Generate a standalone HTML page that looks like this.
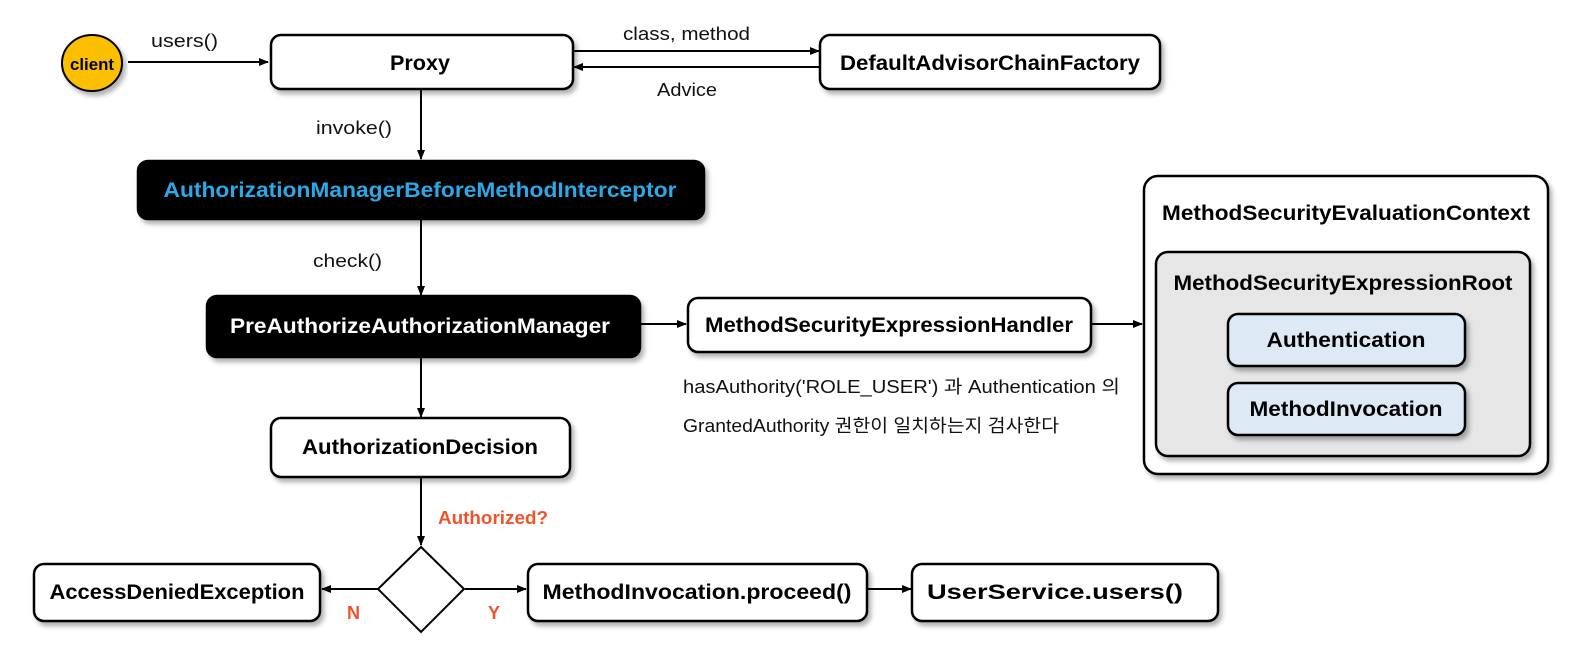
<!DOCTYPE html>
<html><head><meta charset="utf-8"><style>
html,body{margin:0;padding:0;background:#fff;}
svg{display:block;}
text{font-family:"Liberation Sans","Noto Sans CJK KR",sans-serif;}
.b{font-weight:bold;font-size:21px;fill:#000;}
.n{font-size:18px;fill:#111;}
</style></head><body>
<svg width="1583" height="659" viewBox="0 0 1583 659" xmlns="http://www.w3.org/2000/svg">
<defs>
<filter id="sh" x="-10%" y="-20%" width="120%" height="150%"><feDropShadow dx="3" dy="4" stdDeviation="2.5" flood-color="#000" flood-opacity="0.3"/></filter>
<marker id="ar" markerWidth="10" markerHeight="10" refX="9" refY="5" orient="auto" markerUnits="userSpaceOnUse"><path d="M0,1 L10,5 L0,9 Z" fill="#000"/></marker>
</defs>
<g stroke="#000" stroke-width="2" fill="none">
<line x1="128" y1="62" x2="268" y2="62" marker-end="url(#ar)"/>
<line x1="574" y1="51" x2="819" y2="51" marker-end="url(#ar)"/>
<line x1="819" y1="67" x2="574" y2="67" marker-end="url(#ar)"/>
<line x1="421" y1="89" x2="421" y2="159" marker-end="url(#ar)"/>
<line x1="421" y1="220" x2="421" y2="295" marker-end="url(#ar)"/>
<line x1="641" y1="324" x2="686" y2="324" marker-end="url(#ar)"/>
<line x1="1092" y1="324" x2="1142" y2="324" marker-end="url(#ar)"/>
<line x1="421" y1="357" x2="421" y2="417" marker-end="url(#ar)"/>
<line x1="421" y1="478" x2="421" y2="545" marker-end="url(#ar)"/>
<line x1="378" y1="589" x2="322" y2="589" marker-end="url(#ar)"/>
<line x1="465" y1="589" x2="526" y2="589" marker-end="url(#ar)"/>
<line x1="868" y1="589" x2="911" y2="589" marker-end="url(#ar)"/>
</g>
<ellipse cx="92" cy="63" rx="30" ry="28" fill="#fbbf00" stroke="#000" stroke-width="2" filter="url(#sh)"/>
<text x="92" y="70" text-anchor="middle" font-weight="bold" font-size="17" textLength="44" lengthAdjust="spacingAndGlyphs">client</text>
<g stroke="#000" stroke-width="2.5">
<rect x="271" y="35" width="302" height="54" rx="10" fill="#fff" filter="url(#sh)"/>
<rect x="820" y="35" width="340" height="54" rx="10" fill="#fff" filter="url(#sh)"/>
<rect x="138" y="161" width="566" height="58" rx="10" fill="#000" filter="url(#sh)"/>
<rect x="207" y="296" width="433" height="61" rx="10" fill="#000" filter="url(#sh)"/>
<rect x="688" y="298" width="403" height="54" rx="10" fill="#fff" filter="url(#sh)"/>
<rect x="1144" y="176" width="404" height="298" rx="14" fill="#fff" filter="url(#sh)"/>
<rect x="1156" y="252" width="374" height="204" rx="12" fill="#e6e6e6" filter="url(#sh)"/>
<rect x="1228" y="314" width="237" height="52" rx="10" fill="#dde9f5" filter="url(#sh)"/>
<rect x="1228" y="383" width="237" height="52" rx="10" fill="#dde9f5" filter="url(#sh)"/>
<rect x="271" y="418" width="299" height="59" rx="10" fill="#fff" filter="url(#sh)"/>
<rect x="34" y="564" width="286" height="57" rx="10" fill="#fff" filter="url(#sh)"/>
<rect x="528" y="564" width="339" height="57" rx="10" fill="#fff" filter="url(#sh)"/>
<rect x="912" y="564" width="306" height="57" rx="10" fill="#fff" filter="url(#sh)"/>
</g>
<path d="M421,547 L464,589 L421,632 L378,589 Z" fill="#fff" stroke="#000" stroke-width="2"/>
<text class="b" x="420" y="70" text-anchor="middle" textLength="60" lengthAdjust="spacingAndGlyphs">Proxy</text>
<text class="b" x="990" y="70" text-anchor="middle" textLength="300" lengthAdjust="spacingAndGlyphs">DefaultAdvisorChainFactory</text>
<text class="b" x="420" y="197" text-anchor="middle" style="fill:#29a9e8" textLength="513" lengthAdjust="spacingAndGlyphs">AuthorizationManagerBeforeMethodInterceptor</text>
<text class="b" x="420" y="333" text-anchor="middle" style="fill:#fff" textLength="380" lengthAdjust="spacingAndGlyphs">PreAuthorizeAuthorizationManager</text>
<text class="b" x="889" y="332" text-anchor="middle" textLength="368" lengthAdjust="spacingAndGlyphs">MethodSecurityExpressionHandler</text>
<text class="b" x="1346" y="220" text-anchor="middle" textLength="368" lengthAdjust="spacingAndGlyphs">MethodSecurityEvaluationContext</text>
<text class="b" x="1343" y="290" text-anchor="middle" textLength="339" lengthAdjust="spacingAndGlyphs">MethodSecurityExpressionRoot</text>
<text class="b" x="1346" y="347" text-anchor="middle" textLength="159" lengthAdjust="spacingAndGlyphs">Authentication</text>
<text class="b" x="1346" y="416" text-anchor="middle" textLength="193" lengthAdjust="spacingAndGlyphs">MethodInvocation</text>
<text class="b" x="420" y="454" text-anchor="middle" textLength="236" lengthAdjust="spacingAndGlyphs">AuthorizationDecision</text>
<text class="b" x="177" y="599" text-anchor="middle" textLength="255" lengthAdjust="spacingAndGlyphs">AccessDeniedException</text>
<text class="b" x="697" y="599" text-anchor="middle" textLength="309" lengthAdjust="spacingAndGlyphs">MethodInvocation.proceed()</text>
<text class="b" x="1055" y="599" text-anchor="middle" textLength="256" lengthAdjust="spacingAndGlyphs">UserService.users()</text>
<text class="n" x="151" y="47" textLength="67" lengthAdjust="spacingAndGlyphs">users()</text>
<text class="n" x="623" y="40" textLength="127" lengthAdjust="spacingAndGlyphs">class, method</text>
<text class="n" x="657" y="96" textLength="60" lengthAdjust="spacingAndGlyphs">Advice</text>
<text class="n" x="316" y="134" textLength="76" lengthAdjust="spacingAndGlyphs">invoke()</text>
<text class="n" x="313" y="267" textLength="69" lengthAdjust="spacingAndGlyphs">check()</text>
<text class="n" x="683" y="393" textLength="437" lengthAdjust="spacingAndGlyphs">hasAuthority('ROLE_USER') 과 Authentication 의</text>
<text class="n" x="683" y="432" textLength="376" lengthAdjust="spacingAndGlyphs">GrantedAuthority 권한이 일치하는지 검사한다</text>
<text x="438" y="524" font-weight="bold" font-size="18" fill="#f0522a" textLength="110" lengthAdjust="spacingAndGlyphs">Authorized?</text>
<text x="347" y="619" font-weight="bold" font-size="18" fill="#f0522a">N</text>
<text x="488" y="619" font-weight="bold" font-size="18" fill="#f0522a">Y</text>
</svg>
</body></html>
